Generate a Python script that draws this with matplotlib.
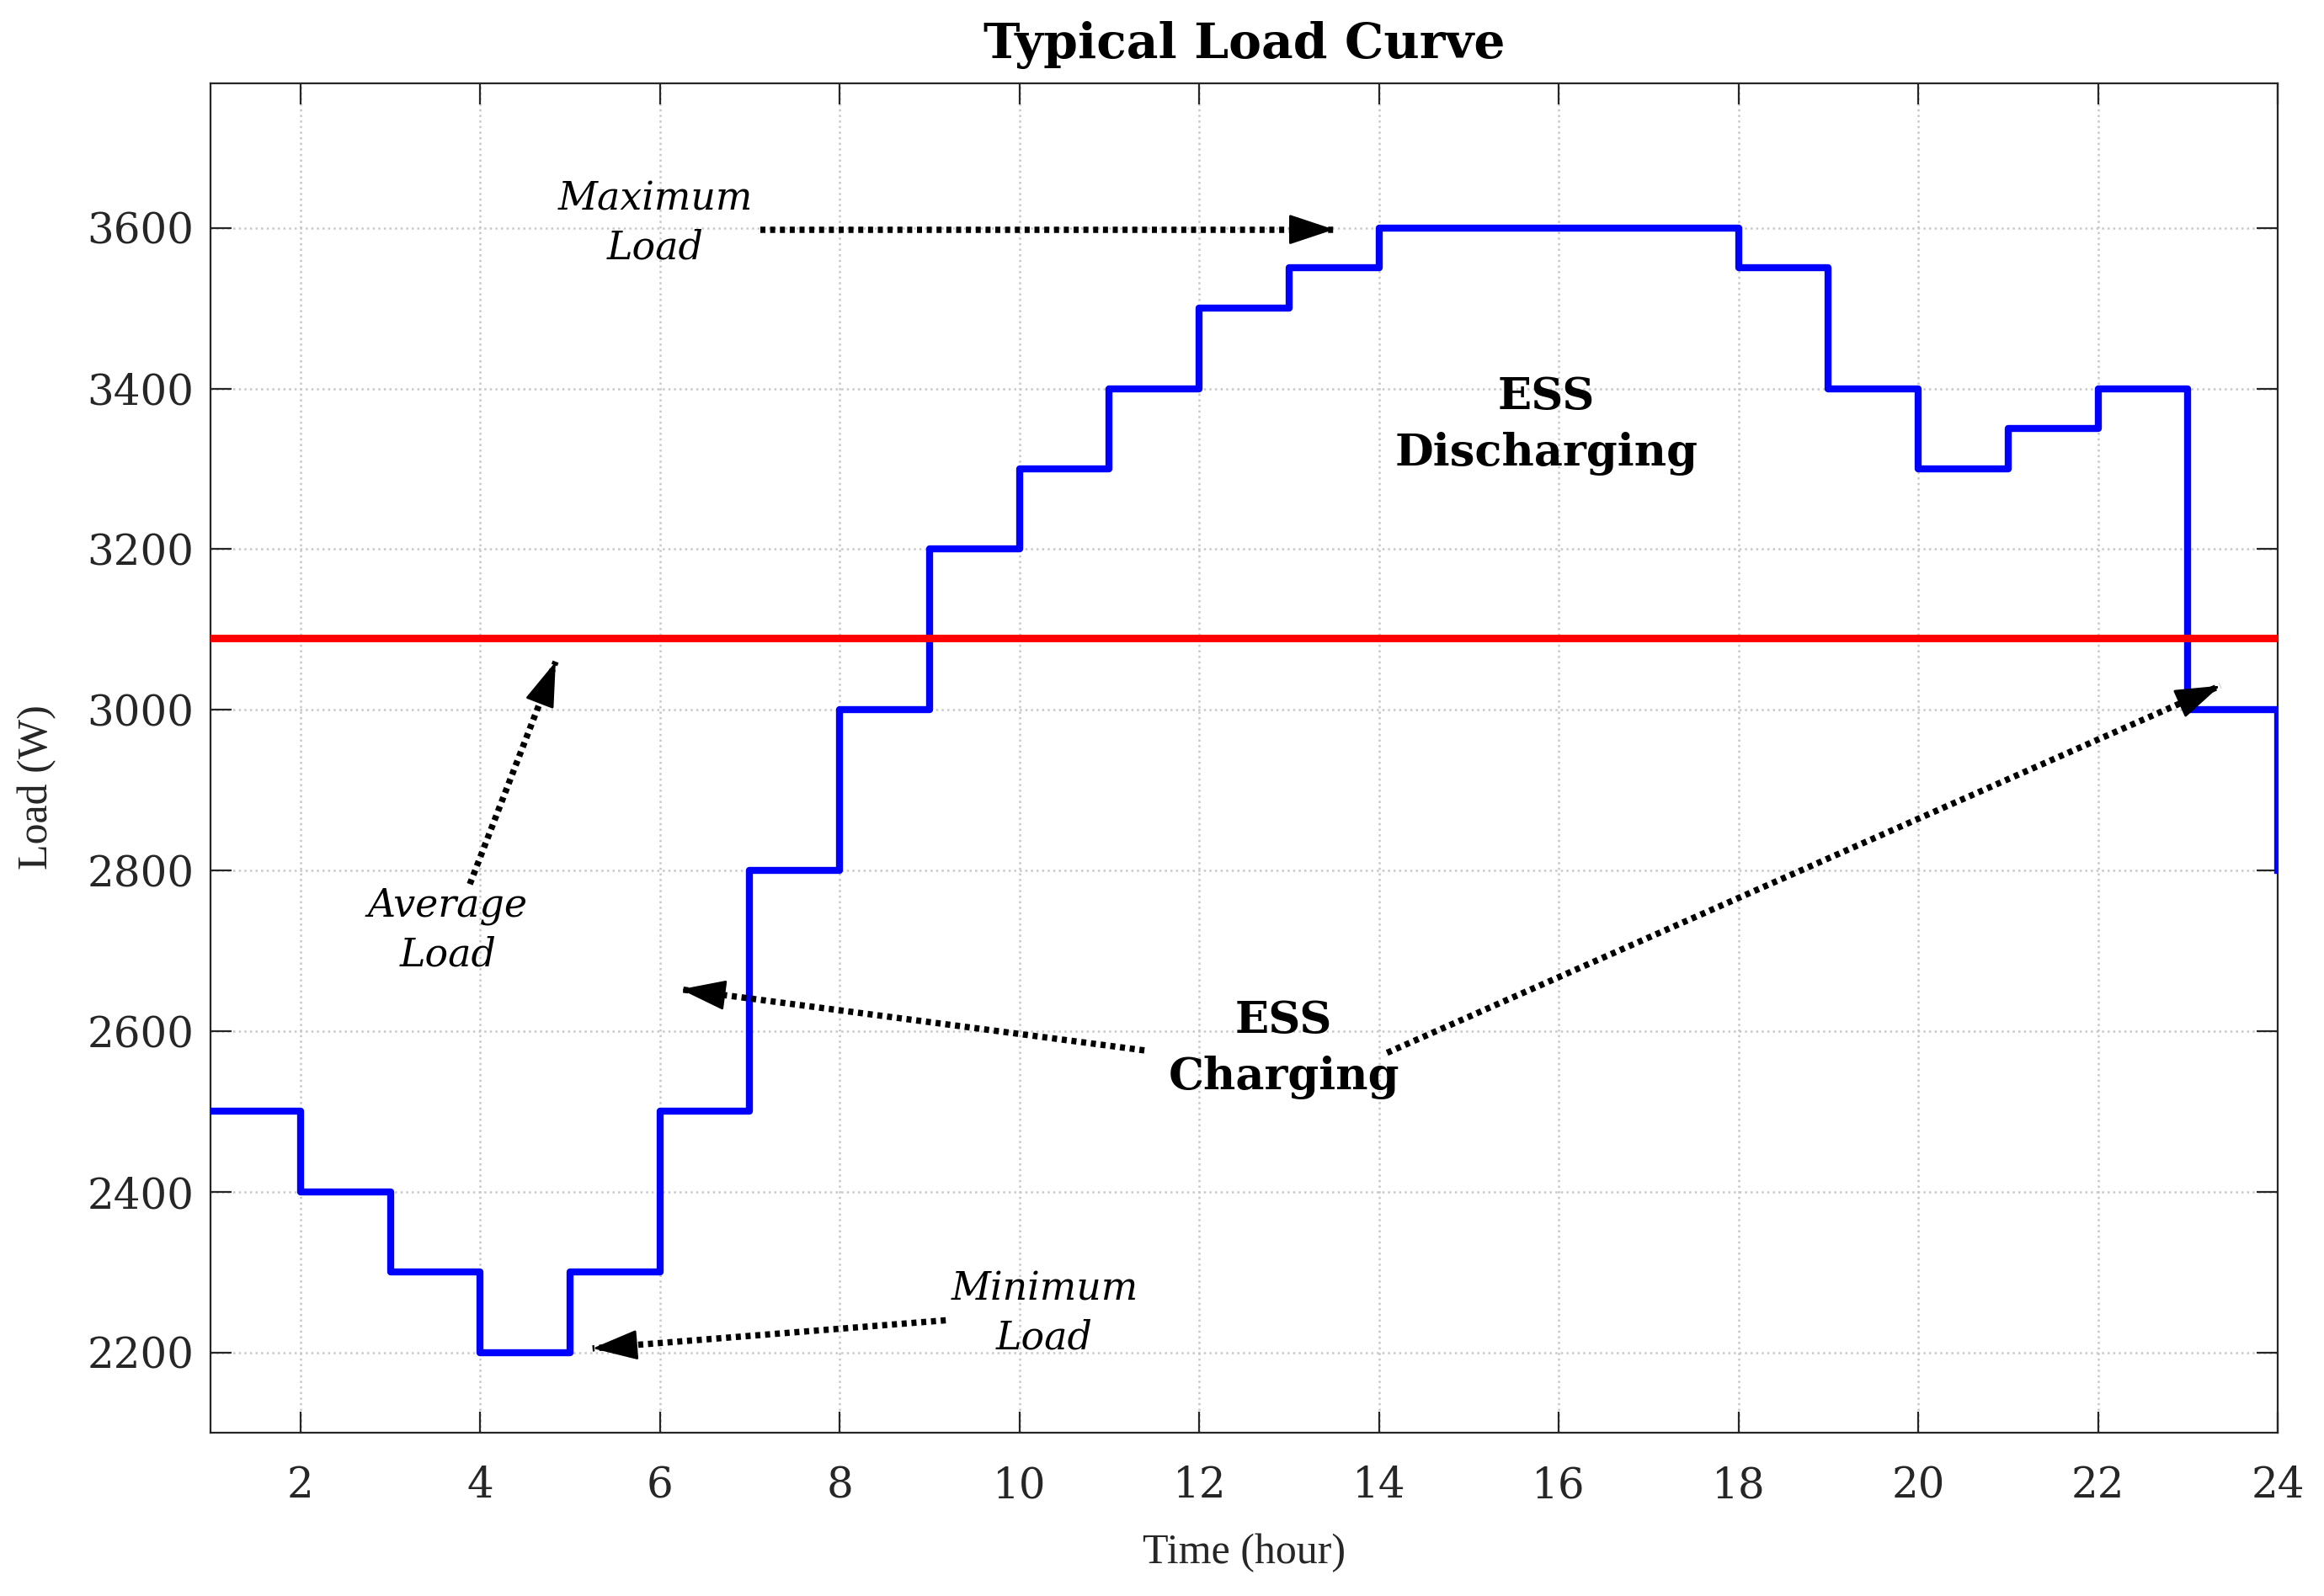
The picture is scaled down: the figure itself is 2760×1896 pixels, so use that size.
import numpy as np
import matplotlib.pyplot as plt

# hourly load (W), drawn as stairs
hours = np.arange(1, 25)
load = [2500, 2400, 2300, 2200, 2300, 2500, 2800, 3000, 3200, 3300, 3400, 3500,
        3550, 3600, 3600, 3600, 3600, 3550, 3400, 3300, 3350, 3400, 3000, 2800]
avg_load = np.mean(load)

xticks = list(range(2, 25, 2))
yticks = list(range(2200, 3601, 200))

# annotation text: (label, x, y)
notes_italic = [("Maximum\nLoad", 5.95, 3605),
                ("Average\nLoad", 3.64, 2725),
                ("Minimum\nLoad", 10.28, 2248)]
notes_bold = [("ESS\nDischarging", 15.86, 3354),
              ("ESS\nCharging", 12.94, 2577)]

# arrows: (tail x, tail y, tip x, tip y)
arrows = [(7.12, 3598, 13.5, 3598),
          (3.885, 2783, 4.84, 3060),
          (9.18, 2240, 5.25, 2205),
          (11.39, 2576, 6.23, 2652),
          (14.09, 2573, 23.36, 3030)]

fig = plt.figure(figsize=(13.8, 9.48), dpi=200)
ax = fig.add_axes([0.0906, 0.1023, 0.8895, 0.8455])

ax.step(hours, load, where='post', color='#0000ff', lw=3, zorder=3)
ax.axhline(avg_load, color='#ff0000', lw=3.2, zorder=3)

ax.set_xlim(1, 24)
ax.set_ylim(2100, 3780)
ax.set_xticks(xticks)
ax.set_yticks(yticks)
ax.grid(True, ls=':', color='#c8c8c8', lw=0.9)
ax.set_axisbelow(True)

ax.tick_params(direction='in', length=9, width=0.8, colors='#262626',
               top=True, right=True, labelsize=18)
ax.tick_params(axis='x', pad=14)
ax.tick_params(axis='y', pad=7)
for lab in ax.get_xticklabels() + ax.get_yticklabels():
    lab.set_family('DejaVu Serif')
for s in ax.spines.values():
    s.set_color('#262626')
    s.set_linewidth(0.8)

fig.text(0.5355, 0.027, 'Time (hour)', family='Liberation Serif', fontsize=18,
         color='#262626', ha='center', va='center')
fig.text(0.016, 0.507, 'Load (W)', family='Liberation Serif', fontsize=18,
         color='#262626', ha='center', va='center', rotation=90)
fig.text(0.5355, 0.972, 'Typical Load Curve', family='DejaVu Serif', fontsize=21,
         fontweight='bold', ha='center', va='center')

for txt, x, y in notes_italic:
    ax.text(x, y, txt, family='DejaVu Serif', style='italic', fontsize=16.5,
            ha='center', va='center', linespacing=1.35)
for txt, x, y in notes_bold:
    ax.text(x, y, txt, family='DejaVu Serif', fontweight='bold', fontsize=19,
            ha='center', va='center', linespacing=1.4)

fig.canvas.draw()
for x0, y0, x1, y1 in arrows:
    # dotted shaft
    ax.plot([x0, x1], [y0, y1], color='black', lw=2.7,
            linestyle=(0, (0.8, 0.75)), dash_capstyle='butt', zorder=4)
    # solid head at the tip
    p0 = ax.transData.transform((x0, y0))
    p1 = ax.transData.transform((x1, y1))
    d = (p1 - p0) / np.hypot(*(p1 - p0))
    back = -d * 40
    ax.annotate('', xy=(x1, y1), xytext=(back[0], back[1]), textcoords='offset pixels',
                arrowprops=dict(arrowstyle='-|>,head_length=0.45,head_width=0.15',
                                color='black', lw=1, mutation_scale=38,
                                shrinkA=0, shrinkB=0),
                zorder=5)

fig.savefig('out.png', dpi=200)
